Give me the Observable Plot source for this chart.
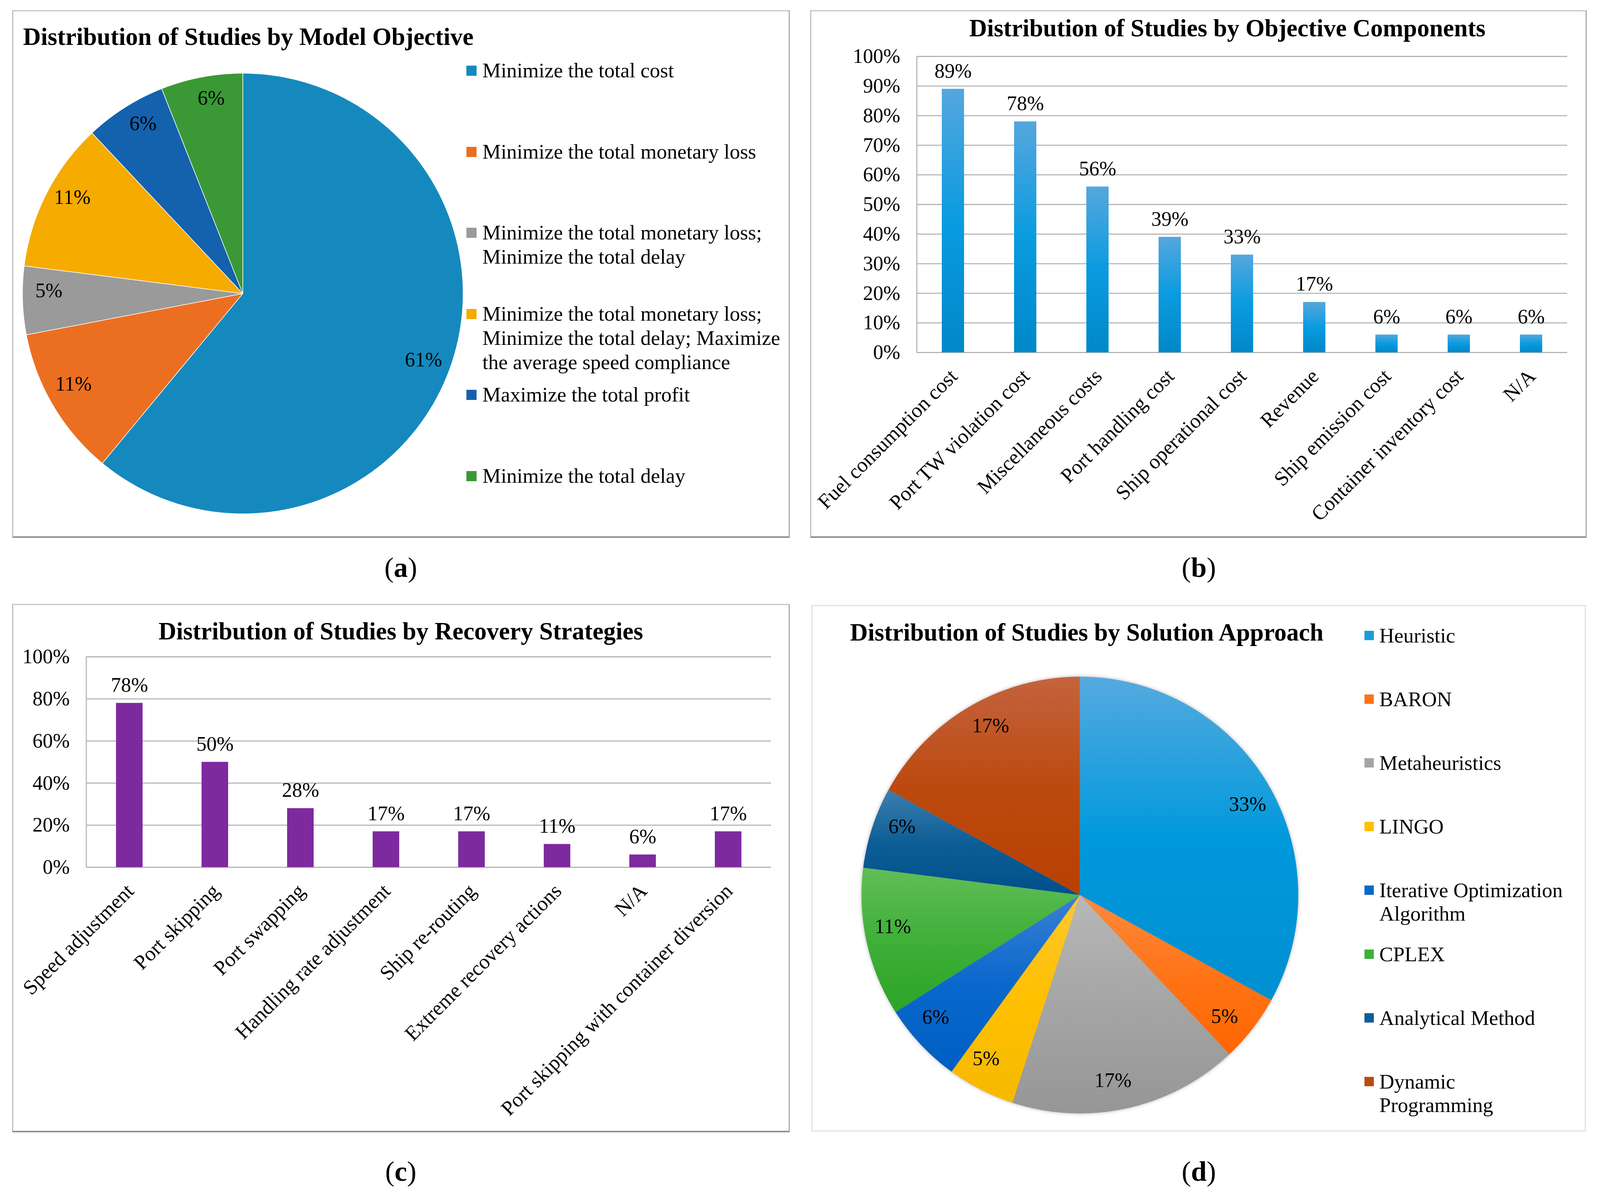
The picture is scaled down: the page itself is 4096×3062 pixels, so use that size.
<!DOCTYPE html>
<html><head><meta charset="utf-8">
<script src="https://cdn.jsdelivr.net/npm/d3@7"></script>
<script src="https://cdn.jsdelivr.net/npm/@observablehq/plot@0.6"></script>
<style>
html,body{margin:0;padding:0;background:#fff;}
#fig{position:relative;width:4096px;height:3062px;overflow:hidden;background:#fff;font-family:"Liberation Serif","Times New Roman",serif;color:#000;}
#fig > *{position:absolute;}
.panel{box-sizing:border-box;}
.title{font-weight:bold;font-size:63px;line-height:63px;white-space:nowrap;}
.leg{font-size:53px;white-space:pre;}
.cap{font-size:72px;line-height:72px;white-space:nowrap;}
.sw{width:26px;height:26px;}
</style></head><body><div id="fig"></div>
<script>
// ---------- data ----------
const objectiveLabels = ["Minimize the total cost", "Minimize the total monetary loss", "Minimize the total monetary loss;\nMinimize the total delay", "Minimize the total monetary loss;\nMinimize the total delay; Maximize\nthe average speed compliance", "Maximize the total profit", "Minimize the total delay"];
const objectiveShares = [61, 11, 5, 11, 6, 6];

const componentLabels = ["Fuel consumption cost", "Port TW violation cost", "Miscellaneous costs", "Port handling cost", "Ship operational cost", "Revenue", "Ship emission cost", "Container inventory cost", "N/A"];
const componentShares = [89, 78, 56, 39, 33, 17, 6, 6, 6];
const componentTicks = [0, 10, 20, 30, 40, 50, 60, 70, 80, 90, 100];

const strategyLabels = ["Speed adjustment", "Port skipping", "Port swapping", "Handling rate adjustment", "Ship re-routing", "Extreme recovery actions", "N/A", "Port skipping with container diversion"];
const strategyShares = [78, 50, 28, 17, 17, 11, 6, 17];
const strategyTicks = [0, 20, 40, 60, 80, 100];

const approachLabels = ["Heuristic", "BARON", "Metaheuristics", "LINGO", "Iterative Optimization\nAlgorithm", "CPLEX", "Analytical Method", "Dynamic\nProgramming"];
const approachShares = [33, 5, 17, 5, 6, 11, 6, 17];

const panelTitles = ["Distribution of Studies by Model Objective", "Distribution of Studies by Objective Components", "Distribution of Studies by Recovery Strategies", "Distribution of Studies by Solution Approach"];
const panelCaptions = ["a", "b", "c", "d"];

// ---------- styles ----------
const objectiveColors = ["#1589be", "#ec6f21", "#9a9a9a", "#f5ab00", "#1461ad", "#3a9935"];
const approachStops = [
  ["#55aadf", "#0099dc", "#008fd0"],
  ["#ff8a3d", "#ff7417", "#ff6600"],
  ["#b8b8b8", "#a5a5a5", "#969696"],
  ["#ffc72e", "#ffc000", "#f6b900"],
  ["#3a80d4", "#0a68cc", "#005fc2"],
  ["#62bd58", "#3fb038", "#2da428"],
  ["#3c7fae", "#0d5e96", "#004f8a"],
  ["#c4633e", "#bc4a10", "#b84000"]
];
const approachSwatch = ["#1a9cdc", "#ff7417", "#a5a5a5", "#ffc000", "#0a68cc", "#3fb038", "#0d5e96", "#bc4a10"];
const barBStops = ["#55a7dd", "#0a9be0", "#0088c8"];
const barCColor = "#7e2a9f";
const gridColor = "#b5b5b5";
const plotStyle = {fontFamily: "'Liberation Serif', 'Times New Roman', serif", fontSize: "52px", color: "#000", background: "none", overflow: "visible"};

// ---------- helpers ----------
const fig = document.getElementById("fig");
function add(el, css) { Object.assign(el.style, css); fig.appendChild(el); return el; }
function box(cls, css, text, html) {
  const d = document.createElement("div");
  d.className = cls;
  if (html != null) d.innerHTML = html; else if (text != null) d.textContent = text;
  return add(d, css);
}
function gradientDefs(specs) {
  return () => {
    const defs = d3.create("svg:defs");
    for (const {id, stops} of specs) {
      const g = defs.append("linearGradient").attr("id", id).attr("x1", 0).attr("y1", 0).attr("x2", 0).attr("y2", 1);
      stops.forEach((c, k) => g.append("stop").attr("offset", k / (stops.length - 1)).attr("stop-color", c));
    }
    return defs.node();
  };
}
const leftAxisLine = (index, scales, values, dims) =>
  d3.create("svg:line")
    .attr("x1", dims.marginLeft).attr("x2", dims.marginLeft)
    .attr("y1", dims.marginTop).attr("y2", dims.height - dims.marginBottom)
    .attr("stroke", gridColor).attr("stroke-width", 2.8).node();

function pieChart({values, fills, size, radius, labelRadius, labelTurn = 0, labelDy = 0, stroke, strokeWidth, defs}) {
  const arcs = d3.pie().sort(null).value(d => d)(values);
  const slices = arcs.map((a, i) => {
    const n = Math.max(8, Math.ceil((a.endAngle - a.startAngle) * 120));
    const ring = d3.range(n + 1).map(k => {
      const t = a.startAngle + (a.endAngle - a.startAngle) * k / n;
      return [Math.sin(t), -Math.cos(t)];
    });
    return {type: "Feature", properties: {fill: fills[i]}, geometry: {type: "Polygon", coordinates: [[[0, 0], ...ring, [0, 0]]]}};
  });
  const labels = arcs.map((a, i) => {
    const m = (a.startAngle + a.endAngle) / 2 + labelTurn;
    return {x: labelRadius * Math.sin(m), y: -labelRadius * Math.cos(m), text: values[i] + "%"};
  });
  const inset = (size - 2 * radius) / 2;
  return Plot.plot({
    width: size, height: size, margin: 0,
    style: plotStyle,
    color: {type: "identity"},
    projection: {type: "identity", domain: {type: "MultiPoint", coordinates: [[-1, -1], [1, 1]]}, inset},
    marks: [
      ...(defs ? [defs] : []),
      Plot.geo(slices, {fill: d => d.properties.fill, stroke, strokeWidth}),
      Plot.text(labels, {x: "x", y: "y", text: "text", fontSize: 52, fill: "#000", dy: labelDy})
    ]
  });
}

function barChart({labels, values, ticks, fill, defs, width, height, marginLeft, marginRight, marginTop, marginBottom}) {
  const table = labels.map((label, i) => ({label, value: values[i]}));
  return Plot.plot({
    width, height, marginLeft, marginRight, marginTop, marginBottom,
    style: plotStyle,
    x: {domain: labels, paddingInner: 0.69, paddingOuter: 0.345, axis: null},
    y: {domain: [0, 100]},
    marks: [
      ...(defs ? [defs] : []),
      Plot.gridY(ticks, {stroke: gridColor, strokeOpacity: 1, strokeWidth: 2.8}),
      leftAxisLine,
      Plot.axisY(ticks, {tickSize: 0, tickPadding: 43, tickFormat: d => d + "%", fontSize: 52, label: null}),
      Plot.barY(table, {x: "label", y: "value", fill}),
      Plot.text(table, {x: "label", y: "value", text: d => d.value + "%", dy: -46, fontSize: 52, fill: "#000"}),
      Plot.text(table, {x: "label", frameAnchor: "bottom", text: "label", rotate: -45, textAnchor: "end", dx: 14, dy: 64, fontSize: 53, fill: "#000"})
    ]
  });
}

// ---------- panel frames ----------
const frameDark = {borderTop: "3px solid #c6c6c6", borderLeft: "3px solid #c0c0c0", borderRight: "3px solid #ababab", borderBottom: "4px solid #909090"};
box("panel", {left: "31px", top: "26px", width: "1991px", height: "1351px", ...frameDark});
box("panel", {left: "2074px", top: "26px", width: "1988px", height: "1351px", ...frameDark});
box("panel", {left: "31px", top: "1546px", width: "1991px", height: "1353px", ...frameDark});
box("panel", {left: "2077px", top: "1549px", width: "1983px", height: "1348px", border: "3px solid #e2e2e2"});

// ---------- (a) pie ----------
const pieA = pieChart({values: objectiveShares, fills: objectiveColors, size: 1200, radius: 564, labelRadius: 0.88, labelTurn: 0.025, labelDy: -10, stroke: "#fff", strokeWidth: 1.5});
add(pieA, {left: "21px", top: "151px"});
box("title", {left: "59px", top: (94.5 - 31.5) + "px"}, panelTitles[0]);
objectiveLabels.forEach((t, i) => {
  const cy = 180 + i * 207.5;
  box("sw", {left: "1194px", top: (cy - 12) + "px", background: objectiveColors[i]});
  box("leg", {left: "1235px", top: (cy - 31) + "px", lineHeight: "62px"}, t);
});

// ---------- (b) bars ----------
const barB = barChart({
  labels: componentLabels, values: componentShares, ticks: componentTicks,
  fill: "url(#gradBarB)", defs: gradientDefs([{id: "gradBarB", stops: barBStops}]),
  width: 1988, height: 1351, marginLeft: 273, marginRight: 50, marginTop: 118, marginBottom: 475
});
add(barB, {left: "2074px", top: "26px"});
box("title", {left: "3142px", top: (72 - 31.5) + "px", transform: "translateX(-50%)"}, panelTitles[1]);

// ---------- (c) bars ----------
const barC = barChart({
  labels: strategyLabels, values: strategyShares, ticks: strategyTicks, fill: barCColor,
  width: 1991, height: 1353, marginLeft: 190, marginRight: 48, marginTop: 135, marginBottom: 679
});
add(barC, {left: "31px", top: "1546px"});
box("title", {left: "1026px", top: (1616 - 31.5) + "px", transform: "translateX(-50%)"}, panelTitles[2]);

// ---------- (d) pie ----------
const gradD = approachStops.map((stops, i) => ({id: "gradD" + i, stops}));
const pieD = pieChart({values: approachShares, fills: gradD.map(g => `url(#${g.id})`), size: 1200, radius: 559, labelRadius: 0.87, labelTurn: 0.045, labelDy: -4, stroke: "none", strokeWidth: 0, defs: gradientDefs(gradD)});
const geoGroup = pieD.querySelector('g[aria-label="geo"]');
if (geoGroup) geoGroup.style.filter = "drop-shadow(0px 0px 5px rgba(0,0,0,0.3))";
add(pieD, {left: "2164px", top: "1691px"});
box("title", {left: "2782px", top: (1619 - 31.5) + "px", transform: "translateX(-50%)"}, panelTitles[3]);
approachLabels.forEach((t, i) => {
  const cy = 1627 + i * 163.1;
  box("sw", {left: "3493px", top: (cy - 12) + "px", width: "24px", height: "24px", background: approachSwatch[i]});
  box("leg", {left: "3531px", top: (cy - 30) + "px", lineHeight: "60px"}, t);
});

// ---------- captions ----------
[[1026, 1453], [3069, 1453], [1026, 2999], [3069, 2999]].forEach(([x, y], i) => {
  box("cap", {left: x + "px", top: (y - 36) + "px", transform: "translateX(-50%)"}, null, `(<b>${panelCaptions[i]}</b>)`);
});
</script></body></html>
